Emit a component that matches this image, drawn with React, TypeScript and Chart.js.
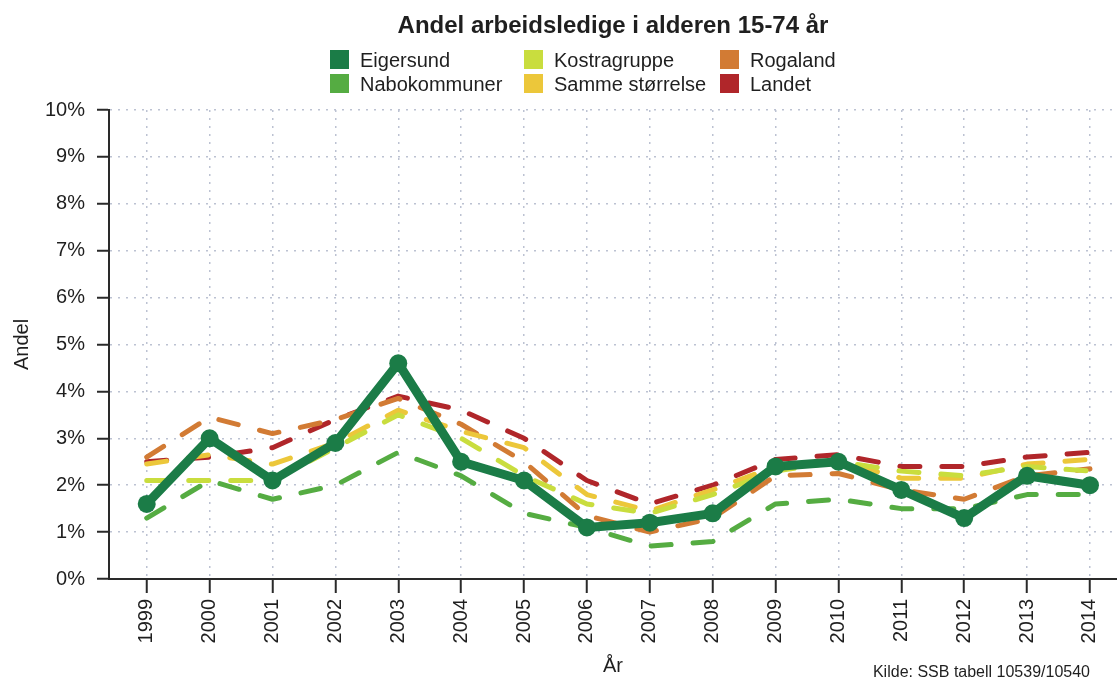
import React, { useEffect, useRef } from "react";
import { Chart, registerables } from "chart.js";

Chart.register(...registerables);

const years = [1999, 2000, 2001, 2002, 2003, 2004, 2005, 2006, 2007, 2008, 2009, 2010, 2011, 2012, 2013, 2014];

const eigersund = [1.6, 3.0, 2.1, 2.9, 4.6, 2.5, 2.1, 1.1, 1.2, 1.4, 2.4, 2.5, 1.9, 1.3, 2.2, 2.0];
const nabokommuner = [1.3, 2.1, 1.7, 2.0, 2.7, 2.2, 1.4, 1.1, 0.7, 0.8, 1.6, 1.7, 1.5, 1.5, 1.8, 1.8];
const kostragruppe = [2.1, 2.1, 2.1, 2.8, 3.5, 3.0, 2.2, 1.6, 1.4, 1.8, 2.3, 2.5, 2.3, 2.2, 2.4, 2.3];
const sammeStorrelse = [2.45, 2.65, 2.45, 2.9, 3.6, 3.15, 2.8, 1.8, 1.45, 1.9, 2.4, 2.5, 2.15, 2.15, 2.45, 2.55];
const rogaland = [2.6, 3.45, 3.1, 3.4, 3.85, 3.3, 2.5, 1.35, 1.0, 1.3, 2.2, 2.25, 1.9, 1.7, 2.2, 2.35];
const landet = [2.5, 2.6, 2.8, 3.4, 3.9, 3.6, 3.0, 2.1, 1.6, 2.0, 2.55, 2.65, 2.4, 2.4, 2.6, 2.7];

const seriesNames = ["Eigersund", "Nabokommuner", "Kostragruppe", "Samme størrelse", "Rogaland", "Landet"];
const seriesValues = [eigersund, nabokommuner, kostragruppe, sammeStorrelse, rogaland, landet];
const seriesColors = ["#1b7c47", "#55ac42", "#c9dd3e", "#ecc73a", "#d27b34", "#b0262a"];

const titleText = "Andel arbeidsledige i alderen 15-74 år";
const yTitle = "Andel";
const xTitle = "År";
const sourceText = "Kilde: SSB tabell 10539/10540";

const FONT = '"Liberation Sans", Arial, Helvetica, sans-serif';

const overlayPlugin = {
  id: "overlay",
  afterDraw(chart: any) {
    const c = chart.ctx as CanvasRenderingContext2D;
    const a = chart.chartArea;
    c.save();
    c.fillStyle = "#1f1f1f";
    c.font = `bold 24px ${FONT}`;
    c.textAlign = "center";
    c.textBaseline = "alphabetic";
    c.fillText(titleText, (a.left + a.right) / 2, 33);

    // legend: 3 columns x 2 rows, column-major
    const colX = [330, 524, 720];
    const rowY = [50, 74];
    c.font = `20px ${FONT}`;
    c.textAlign = "left";
    seriesNames.forEach((name, i) => {
      const col = Math.floor(i / 2);
      const row = i % 2;
      const x = colX[col];
      const y = rowY[row];
      c.fillStyle = seriesColors[i];
      c.fillRect(x, y, 19, 19);
      c.fillStyle = "#1f1f1f";
      c.fillText(name, x + 30, y + 17);
    });

    c.font = `16px ${FONT}`;
    c.textAlign = "right";
    c.fillStyle = "#1f1f1f";
    c.fillText(sourceText, 1090, 677);
    c.restore();
  },
};

export default function App() {
  const ref = useRef<HTMLCanvasElement>(null);

  useEffect(() => {
    document.body.style.margin = "0";
    const canvas = ref.current;
    if (!canvas) return;

    const datasets = seriesNames.map((name, i) => {
      const main = i === 0;
      return {
        label: name,
        data: years.map((yr, k) => ({ x: yr, y: seriesValues[i][k] })),
        borderColor: seriesColors[i],
        backgroundColor: seriesColors[i],
        borderWidth: main ? 9 : 5,
        borderDash: main ? [] : [20, 22],
        borderCapStyle: "round" as const,
        borderJoinStyle: "round" as const,
        pointRadius: main ? 9 : 0,
        pointHoverRadius: main ? 9 : 0,
        pointBorderWidth: 0,
        pointBackgroundColor: seriesColors[i],
        tension: 0,
        fill: false,
      };
    });

    const gridColor = "#bcc2d2";
    const axisColor = "#2a2a2a";

    const chart = new Chart(canvas, {
      type: "line",
      data: { datasets },
      plugins: [overlayPlugin],
      options: {
        responsive: false,
        animation: false,
        layout: { autoPadding: false, padding: { top: 110, right: 0, bottom: 0, left: 0 } },
        plugins: {
          legend: { display: false },
          title: { display: false },
          tooltip: { enabled: false },
        },
        scales: {
          x: {
            type: "linear",
            min: 1998.4,
            max: 2014.43,
            afterBuildTicks: (s: any) => {
              s.ticks = years.map((v) => ({ value: v }));
            },
            afterFit: (s: any) => {
              s.height = 101;
              s.paddingRight = 0;
              s.paddingLeft = 0;
            },
            ticks: {
              autoSkip: false,
              minRotation: 90,
              maxRotation: 90,
              padding: 6,
              color: "#1f1f1f",
              font: { size: 20, family: FONT },
              callback: (v: any) => String(v),
            },
            grid: {
              color: gridColor,
              lineWidth: 1.5,
              tickColor: axisColor,
              tickLength: 14,
              tickWidth: 2,
            },
            border: { color: axisColor, width: 2, dash: [2, 6] },
            title: {
              display: true,
              text: xTitle,
              color: "#1f1f1f",
              font: { size: 20, family: FONT },
              padding: { top: 0, bottom: 2 },
            },
          },
          y: {
            min: 0,
            max: 10,
            afterFit: (s: any) => {
              s.width = 109;
            },
            ticks: {
              stepSize: 1,
              padding: 12,
              color: "#1f1f1f",
              font: { size: 20, family: FONT },
              callback: (v: any) => `${v}%`,
            },
            grid: {
              color: gridColor,
              lineWidth: 1.5,
              tickColor: axisColor,
              tickLength: 12,
              tickWidth: 2,
            },
            border: { color: axisColor, width: 2, dash: [2, 6] },
            title: {
              display: true,
              text: yTitle,
              color: "#1f1f1f",
              font: { size: 20, family: FONT },
              padding: { top: 10, bottom: 0 },
            },
          },
        },
      },
    });

    return () => chart.destroy();
  }, []);

  return (
    <div style={{ width: 1117, height: 680 }}>
      <canvas ref={ref} width={1117} height={680} style={{ display: "block" }} />
    </div>
  );
}
